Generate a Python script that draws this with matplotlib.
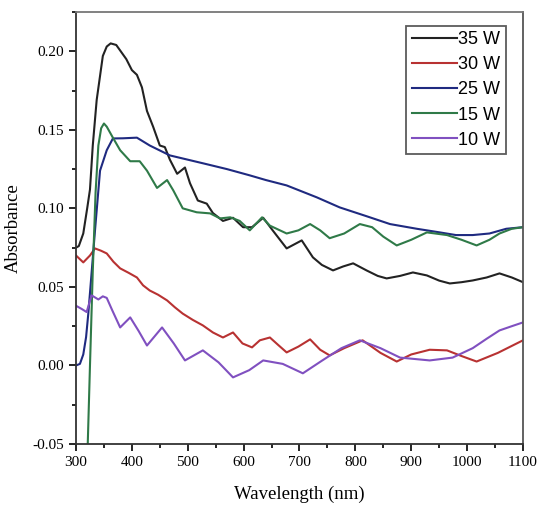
import matplotlib
matplotlib.use("Agg")
import matplotlib.pyplot as plt
from matplotlib.ticker import MultipleLocator

labels = ["35 W", "30 W", "25 W", "15 W", "10 W"]
colors = ["#222222", "#b83232", "#1f2a80", "#2f7a48", "#8050c0"]

x35 = [300, 305, 313, 320, 325, 330, 337, 348, 355, 362, 372, 380, 390, 400, 409, 418, 427, 438, 450, 459,
       468, 481, 495, 504, 518, 534, 545, 563, 581, 599, 615, 635, 652, 677, 704, 724, 740, 760, 778, 796,
       820, 840, 856, 880, 903, 928, 950, 969, 990, 1010, 1035, 1058, 1080, 1100]
y35 = [0.075, 0.076, 0.084, 0.100, 0.112, 0.140, 0.169, 0.197, 0.203, 0.205, 0.204, 0.200, 0.195, 0.188,
       0.185, 0.177, 0.162, 0.152, 0.140, 0.139, 0.131, 0.122, 0.126, 0.116, 0.105, 0.103, 0.097, 0.092,
       0.094, 0.088, 0.088, 0.094, 0.086, 0.0745, 0.0796, 0.0688, 0.064, 0.0605, 0.063, 0.065, 0.0605,
       0.057, 0.0554, 0.057, 0.0592, 0.0573, 0.054, 0.0522, 0.053, 0.0541, 0.056, 0.0586, 0.056, 0.053]

x30 = [300, 313, 325, 334, 345, 355, 367, 379, 394, 409, 420, 432, 447, 463, 477, 491, 509, 527, 545, 563,
       581, 598, 615, 629, 647, 662, 677, 698, 719, 737, 754, 780, 813, 845, 874, 900, 933, 964, 990, 1017,
       1055, 1100]
y30 = [0.070, 0.0656, 0.070, 0.0745, 0.073, 0.0713, 0.066, 0.0618, 0.059, 0.056, 0.051, 0.0477, 0.045,
       0.0414, 0.037, 0.033, 0.029, 0.0255, 0.021, 0.0178, 0.021, 0.014, 0.0115, 0.016, 0.0178, 0.013,
       0.0083, 0.012, 0.0166, 0.010, 0.0064, 0.011, 0.016, 0.008, 0.0025, 0.007, 0.010, 0.0096, 0.006,
       0.0025, 0.008, 0.016]

x25 = [300, 307, 313, 318, 322, 327, 334, 343, 355, 366, 384, 409, 432, 468, 527, 570, 611, 640, 677, 731,
       772, 820, 862, 910, 951, 980, 1010, 1040, 1070, 1100]
y25 = [0.0, 0.001, 0.007, 0.018, 0.033, 0.055, 0.086, 0.124, 0.137, 0.1445, 0.1446, 0.145, 0.140, 0.1337,
       0.1287, 0.125, 0.121, 0.118, 0.1146, 0.107, 0.1006, 0.095, 0.090, 0.087, 0.0847, 0.083, 0.083,
       0.084, 0.087, 0.088]

x15 = [321, 325, 330, 335, 340, 345, 350, 355, 366, 379, 397, 414, 427, 445, 463, 474, 491, 516, 540, 558,
       576, 593, 611, 633, 647, 677, 698, 719, 737, 754, 780, 808, 830, 850, 874, 900, 928, 964, 990, 1017,
       1040, 1058, 1080, 1100]
y15 = [-0.05, 0.0, 0.06, 0.11, 0.140, 0.151, 0.154, 0.152, 0.145, 0.137, 0.130, 0.130, 0.124, 0.113,
       0.118, 0.1115, 0.100, 0.0975, 0.0968, 0.0936, 0.0943, 0.092, 0.086, 0.0943, 0.089, 0.084, 0.086,
       0.090, 0.086, 0.081, 0.084, 0.090, 0.088, 0.082, 0.0764, 0.080, 0.0847, 0.083, 0.080, 0.0764,
       0.080, 0.084, 0.087, 0.088]

x10 = [300, 310, 319, 324, 328, 340, 348, 355, 365, 379, 397, 412, 427, 454, 475, 495, 527, 555, 581, 610,
       635, 670, 706, 740, 775, 808, 845, 880, 933, 974, 1010, 1035, 1058, 1080, 1100]
y10 = [0.038, 0.036, 0.034, 0.040, 0.0446, 0.042, 0.044, 0.043, 0.035, 0.0242, 0.0306, 0.022, 0.0127,
       0.0242, 0.014, 0.0032, 0.0096, 0.002, -0.0076, -0.003, 0.0032, 0.001, -0.005, 0.003, 0.011, 0.016,
       0.011, 0.005, 0.0032, 0.005, 0.011, 0.017, 0.0223, 0.025, 0.0274]

series = [(x35, y35), (x30, y30), (x25, y25), (x15, y15), (x10, y10)]

fig = plt.figure(figsize=(5.41, 5.12), dpi=100)
ax = fig.add_axes([0.1405, 0.1328, 0.8262, 0.8438])

for (xs, ys), lab, c in zip(series, labels, colors):
    ax.plot(xs, ys, color=c, lw=1.5, label=lab)

ax.set_xlim(300, 1100)
ax.set_ylim(-0.05, 0.225)
ax.xaxis.set_major_locator(MultipleLocator(100))
ax.xaxis.set_minor_locator(MultipleLocator(50))
ax.yaxis.set_major_locator(MultipleLocator(0.05))
ax.yaxis.set_minor_locator(MultipleLocator(0.025))
ax.tick_params(which="both", direction="out", top=False, right=False, width=1.2)
ax.tick_params(which="major", length=5)
ax.tick_params(which="minor", length=3)
for sp in ax.spines.values():
    sp.set_linewidth(1.3)
    sp.set_color("#333333")
ax.spines["top"].set_color("#777777")
ax.spines["right"].set_color("#555555")

serif = ["Liberation Serif", "DejaVu Serif"]
ax.set_yticks([-0.05, 0.0, 0.05, 0.10, 0.15, 0.20])
ax.set_yticklabels(["-0.05", "0.00", "0.05", "0.10", "0.15", "0.20"], family=serif, fontsize=11)
ax.set_xticks(list(range(300, 1101, 100)))
ax.set_xticklabels([str(v) for v in range(300, 1101, 100)], family=serif, fontsize=11)
ax.set_xlabel("Wavelength (nm)", family=serif, fontsize=13.5, labelpad=12)
ax.set_ylabel("Absorbance", family=serif, fontsize=13.5, labelpad=8)

leg = ax.legend(loc="upper right", bbox_to_anchor=(0.962, 0.968), prop={"family": "Liberation Sans", "size": 13},
                frameon=True, fancybox=False, edgecolor="#333333", handlelength=2.5, handletextpad=0.1,
                labelspacing=0.45, borderpad=0.3, borderaxespad=0.0)
leg.get_frame().set_linewidth(1.3)

fig.savefig("out.png", dpi=100)
